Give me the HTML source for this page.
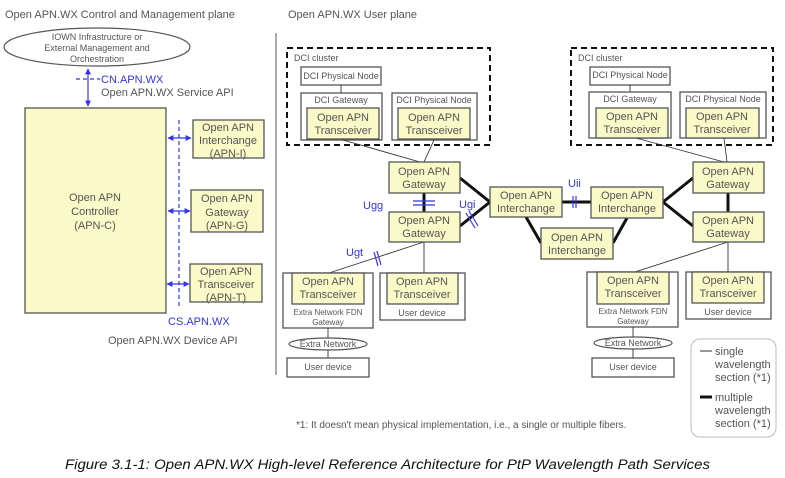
<!DOCTYPE html>
<html><head><meta charset="utf-8"><style>
html,body{margin:0;padding:0;background:#fff;}
svg{display:block;font-family:"Liberation Sans","Noto Sans CJK JP",sans-serif;}
.t{fill:#555;font-size:11px;text-anchor:middle;}
.s{fill:#555;font-size:9px;text-anchor:middle;}
.b{fill:#3333ee;font-size:11px;}
.y{fill:#fafac8;stroke:#555;stroke-width:1.3;}
.w{fill:#fff;stroke:#555;stroke-width:1.3;}
.th{stroke:#111;stroke-width:3;}
.tn{stroke:#333;stroke-width:0.9;}
.bl{stroke:#3333ee;stroke-width:1.2;}
</style></head><body>
<svg width="785" height="478" viewBox="0 0 785 478" xmlns="http://www.w3.org/2000/svg">
<defs>
<marker id="a" viewBox="0 0 10 10" refX="9" refY="5" markerWidth="5" markerHeight="5" orient="auto-start-reverse"><path d="M0,0L10,5L0,10z" fill="#3333ee"/></marker>
</defs>
<!-- left panel -->
<text x="5" y="18" style="fill:#555;font-size:11px">Open APN.WX Control and Management plane</text>
<line x1="276" y1="33" x2="276" y2="375" stroke="#555" stroke-width="1"/>
<ellipse cx="97" cy="47" rx="93" ry="19" fill="#fff" stroke="#555" stroke-width="1.2"/>
<text class="s" x="97" y="40">IOWN Infrastructure or</text>
<text class="s" x="97" y="51">External Management and</text>
<text class="s" x="97" y="62">Orchestration</text>
<line class="bl" x1="88" y1="69" x2="88" y2="106" marker-start="url(#a)" marker-end="url(#a)"/>
<line class="bl" x1="76" y1="79" x2="100" y2="79" stroke-dasharray="4,3"/>
<text class="b" x="101" y="83">CN.APN.WX</text>
<text x="101" y="96" style="fill:#555;font-size:11px">Open APN.WX Service API</text>
<rect class="y" x="25" y="108" width="141" height="205"/>
<text class="t" x="95" y="201">Open APN</text>
<text class="t" x="95" y="215">Controller</text>
<text class="t" x="95" y="229">(APN-C)</text>
<line class="bl" x1="179" y1="120" x2="179" y2="306" stroke-dasharray="4,3"/>
<rect class="y" x="193" y="120" width="71" height="38"/>
<text class="t" x="228" y="131">Open APN</text><text class="t" x="228" y="144">Interchange</text><text class="t" x="228" y="157">(APN-I)</text>
<rect class="y" x="191" y="190" width="72" height="42"/>
<text class="t" x="227" y="202">Open APN</text><text class="t" x="227" y="216">Gateway</text><text class="t" x="227" y="229">(APN-G)</text>
<rect class="y" x="190" y="264" width="72" height="38"/>
<text class="t" x="226" y="275">Open APN</text><text class="t" x="226" y="288">Transceiver</text><text class="t" x="226" y="301">(APN-T)</text>
<line class="bl" x1="168" y1="138" x2="191" y2="138" marker-start="url(#a)" marker-end="url(#a)"/>
<line class="bl" x1="168" y1="211" x2="190" y2="211" marker-start="url(#a)" marker-end="url(#a)"/>
<line class="bl" x1="167" y1="284" x2="189" y2="284" marker-start="url(#a)" marker-end="url(#a)"/>
<text class="b" x="168" y="325">CS.APN.WX</text>
<text x="108" y="344" style="fill:#555;font-size:11px">Open APN.WX Device API</text>

<!-- right panel -->
<text x="288" y="18" style="fill:#555;font-size:11px">Open APN.WX User plane</text>
<!-- clusters -->
<rect x="287" y="48" width="203" height="97" fill="none" stroke="#111" stroke-width="2" stroke-dasharray="6,4"/>
<text x="294" y="61" style="fill:#555;font-size:9px">DCI cluster</text>
<rect class="w" x="301" y="67" width="80" height="18"/><text class="s" x="341" y="79">DCI Physical Node</text>
<line class="tn" x1="341" y1="85" x2="341" y2="93"/>
<rect class="w" x="301" y="93" width="81" height="47"/><text class="s" x="341" y="103">DCI Gateway</text>
<rect class="y" x="307" y="108" width="72" height="31"/><text class="t" x="343" y="121">Open APN</text><text class="t" x="343" y="134">Transceiver</text>
<rect class="w" x="392" y="93" width="85" height="47"/><text class="s" x="434" y="103">DCI Physical Node</text>
<rect class="y" x="398" y="108" width="72" height="31"/><text class="t" x="434" y="121">Open APN</text><text class="t" x="434" y="134">Transceiver</text>

<rect x="571" y="48" width="202" height="97" fill="none" stroke="#111" stroke-width="2" stroke-dasharray="6,4"/>
<text x="578" y="61" style="fill:#555;font-size:9px">DCI cluster</text>
<rect class="w" x="590" y="67" width="80" height="18"/><text class="s" x="630" y="78">DCI Physical Node</text>
<line class="tn" x1="630" y1="85" x2="630" y2="92"/>
<rect class="w" x="589" y="92" width="82" height="46"/><text class="s" x="630" y="102">DCI Gateway</text>
<rect class="y" x="596" y="108" width="72" height="30"/><text class="t" x="632" y="120">Open APN</text><text class="t" x="632" y="133">Transceiver</text>
<rect class="w" x="680" y="92" width="86" height="46"/><text class="s" x="723" y="102">DCI Physical Node</text>
<rect class="y" x="686" y="108" width="73" height="30"/><text class="t" x="722" y="120">Open APN</text><text class="t" x="722" y="133">Transceiver</text>

<!-- thin lines -->
<line class="tn" x1="343" y1="140" x2="420" y2="162"/>
<line class="tn" x1="434" y1="140" x2="424" y2="162"/>
<line class="tn" x1="636" y1="138" x2="724" y2="162"/>
<line class="tn" x1="724" y1="138" x2="727" y2="162"/>
<line class="tn" x1="424" y1="242" x2="329" y2="273"/>
<line class="tn" x1="424" y1="242" x2="424" y2="273"/>
<line class="tn" x1="728" y1="242" x2="635" y2="272"/>
<line class="tn" x1="728" y1="242" x2="728" y2="272"/>

<!-- thick lines -->
<line class="th" x1="424" y1="193" x2="424" y2="212"/>
<line class="th" x1="460" y1="178" x2="490" y2="202"/>
<line class="th" x1="460" y1="226" x2="490" y2="202"/>
<line class="th" x1="562" y1="202" x2="591" y2="202"/>
<line class="th" x1="526" y1="217" x2="541" y2="243"/>
<line class="th" x1="627" y1="218" x2="613" y2="243"/>
<line class="th" x1="663" y1="202" x2="693" y2="178"/>
<line class="th" x1="663" y1="202" x2="693" y2="226"/>
<line class="th" x1="728" y1="193" x2="728" y2="212"/>

<!-- gateways / interchanges -->
<rect class="y" x="389" y="162" width="71" height="31"/><text class="t" x="424" y="175">Open APN</text><text class="t" x="424" y="188">Gateway</text>
<rect class="y" x="389" y="212" width="71" height="30"/><text class="t" x="424" y="224">Open APN</text><text class="t" x="424" y="237">Gateway</text>
<rect class="y" x="490" y="187" width="72" height="30"/><text class="t" x="526" y="199">Open APN</text><text class="t" x="526" y="212">Interchange</text>
<rect class="y" x="591" y="187" width="72" height="31"/><text class="t" x="627" y="199">Open APN</text><text class="t" x="627" y="212">Interchange</text>
<rect class="y" x="541" y="228" width="72" height="31"/><text class="t" x="577" y="241">Open APN</text><text class="t" x="577" y="254">Interchange</text>
<rect class="y" x="693" y="162" width="71" height="31"/><text class="t" x="728" y="175">Open APN</text><text class="t" x="728" y="188">Gateway</text>
<rect class="y" x="693" y="212" width="71" height="30"/><text class="t" x="728" y="224">Open APN</text><text class="t" x="728" y="237">Gateway</text>

<!-- interface labels -->
<text class="b" x="363" y="209">Ugg</text>
<line class="bl" x1="413" y1="201" x2="435" y2="201"/><line class="bl" x1="413" y1="205" x2="435" y2="205"/>
<text class="b" x="459" y="208">Ugi</text>
<line class="bl" x1="466" y1="213" x2="475" y2="228"/><line class="bl" x1="469" y1="211" x2="478" y2="226"/>
<text class="b" x="568" y="187">Uii</text>
<line class="bl" x1="573" y1="196" x2="573" y2="208"/><line class="bl" x1="576" y1="196" x2="576" y2="208"/>
<text class="b" x="346" y="256">Ugt</text>
<line class="bl" x1="374" y1="252" x2="378" y2="266"/><line class="bl" x1="377" y1="251" x2="381" y2="265"/>

<!-- bottom left -->
<rect class="w" x="283" y="273" width="90" height="55"/>
<rect class="y" x="292" y="273" width="72" height="31"/><text class="t" x="328" y="285">Open APN</text><text class="t" x="328" y="298">Transceiver</text>
<text class="s" x="328" y="315" style="font-size:8px">Extra Network FDN</text><text class="s" x="328" y="325" style="font-size:8px">Gateway</text>
<rect class="w" x="380" y="273" width="85" height="47"/>
<rect class="y" x="387" y="273" width="71" height="31"/><text class="t" x="422" y="285">Open APN</text><text class="t" x="422" y="298">Transceiver</text>
<text class="s" x="422" y="316">User device</text>
<line class="tn" x1="328" y1="328" x2="328" y2="338"/>
<ellipse cx="328" cy="344" rx="39" ry="6" fill="#fff" stroke="#555" stroke-width="1.2"/><text class="s" x="328" y="347">Extra Network</text>
<line class="tn" x1="328" y1="350" x2="328" y2="358"/>
<rect class="w" x="287" y="358" width="82" height="19"/><text class="s" x="328" y="370">User device</text>

<!-- bottom right -->
<rect class="w" x="587" y="272" width="91" height="55"/>
<rect class="y" x="597" y="272" width="72" height="32"/><text class="t" x="633" y="284">Open APN</text><text class="t" x="633" y="297">Transceiver</text>
<text class="s" x="633" y="314" style="font-size:8px">Extra Network FDN</text><text class="s" x="633" y="324" style="font-size:8px">Gateway</text>
<rect class="w" x="686" y="272" width="85" height="47"/>
<rect class="y" x="692" y="272" width="72" height="31"/><text class="t" x="728" y="284">Open APN</text><text class="t" x="728" y="297">Transceiver</text>
<text class="s" x="728" y="315">User device</text>
<line class="tn" x1="633" y1="327" x2="633" y2="337"/>
<ellipse cx="633" cy="343" rx="39" ry="6" fill="#fff" stroke="#555" stroke-width="1.2"/><text class="s" x="633" y="346">Extra Network</text>
<line class="tn" x1="633" y1="349" x2="633" y2="358"/>
<rect class="w" x="592" y="358" width="82" height="19"/><text class="s" x="633" y="370">User device</text>

<!-- legend -->
<rect x="691" y="339" width="85" height="98" rx="9" fill="#fff" stroke="#bbb" stroke-width="1"/>
<line x1="700" y1="351" x2="712" y2="351" stroke="#333" stroke-width="1"/>
<line x1="700" y1="397" x2="712" y2="397" stroke="#111" stroke-width="3"/>
<g style="fill:#555;font-size:11px">
<text x="715" y="355">single</text><text x="715" y="368">wavelength</text><text x="715" y="381">section (*1)</text>
<text x="715" y="401">multiple</text><text x="715" y="414">wavelength</text><text x="715" y="427">section (*1)</text>
</g>
<text x="296" y="428" style="fill:#555;font-size:10px">*1: It doesn't mean physical implementation, i.e., a single or multiple fibers.</text>

<text x="65" y="469" textLength="645" lengthAdjust="spacingAndGlyphs" style="fill:#111;font-size:13.5px;font-style:italic">Figure 3.1-1: Open APN.WX High-level Reference Architecture for PtP Wavelength Path Services</text>
</svg>
</body></html>
